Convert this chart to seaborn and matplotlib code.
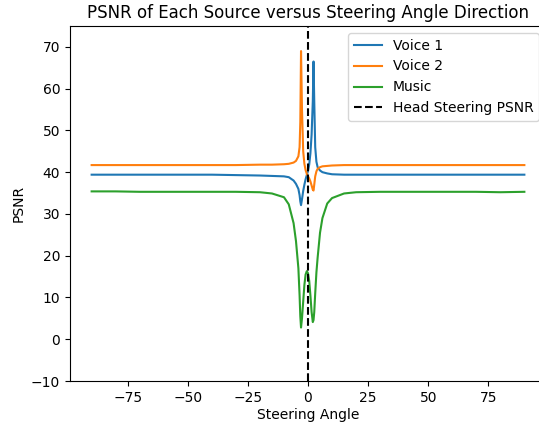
import numpy as np
import pandas as pd
import matplotlib
matplotlib.use("Agg")
import matplotlib.pyplot as plt
import seaborn as sns

# steering angles (degrees), denser near 0 where the spikes are
angles = [-90, -80, -70, -60, -50, -40, -30, -20, -15, -10, -8, -6, -5, -4,
          -3.5, -3.2, -2.9, -2.5, -2, -1.5, -1, -0.5, 0, 0.5, 1, 1.5, 2, 2.3,
          2.6, 3, 3.5, 4, 5, 6, 8, 10, 15, 20, 30, 40, 50, 60, 70, 80, 90]

voice1 = [39.4, 39.4, 39.4, 39.4, 39.4, 39.4, 39.3, 39.2, 39.1, 39.0, 38.8, 38.0, 37.2, 36.0,
          34.5, 33.0, 32.1, 33.5, 35.5, 37.0, 38.3, 39.3, 40.3, 41.8, 44.5, 49.0, 57.0, 66.5,
          57.0, 46.0, 42.5, 41.2, 40.4, 40.0, 39.7, 39.5, 39.4, 39.4, 39.4, 39.4, 39.4, 39.4, 39.4, 39.4, 39.4]

voice2 = [41.7, 41.7, 41.7, 41.7, 41.7, 41.7, 41.7, 41.8, 41.8, 41.9, 42.0, 42.3, 42.7, 43.8,
          46.0, 52.0, 69.0, 55.0, 45.0, 42.0, 40.5, 39.6, 39.0, 38.5, 37.8, 36.8, 35.8, 35.6,
          37.0, 39.0, 40.2, 40.8, 41.2, 41.4, 41.5, 41.6, 41.7, 41.7, 41.7, 41.7, 41.7, 41.7, 41.7, 41.7, 41.7]

music = [35.4, 35.4, 35.3, 35.3, 35.3, 35.3, 35.3, 35.2, 34.9, 34.0, 32.3, 27.8, 23.5, 17.0,
         10.5, 5.5, 2.8, 5.0, 9.0, 13.0, 15.5, 16.3, 15.8, 14.0, 10.5, 6.5, 4.1, 4.6,
         6.5, 11.0, 16.0, 19.5, 25.5, 29.0, 32.5, 33.8, 34.9, 35.2, 35.3, 35.3, 35.3, 35.3, 35.3, 35.2, 35.3]

sources = ["Voice 1", "Voice 2", "Music"]

df = pd.concat([
    pd.DataFrame({"angle": angles, "psnr": vals, "source": name})
    for name, vals in zip(sources, [voice1, voice2, music])
])

fig = plt.figure(figsize=(5.39, 4.23), dpi=100)
# axes deliberately runs past the right edge, like the cropped original
ax = fig.add_axes([70 / 539, 42 / 423, 476 / 539, 355 / 423])

sns.lineplot(data=df, x="angle", y="psnr", hue="source", palette="tab10",
             estimator=None, sort=False, ax=ax, linewidth=1.5)
ax.axvline(0, color="black", linestyle="--", label="Head Steering PSNR")

ax.set_xlim(-99, 99)
ax.set_ylim(-10, 75)
ax.set_title("PSNR of Each Source versus Steering Angle Direction")
ax.set_xlabel("Steering Angle", labelpad=2.5)
ax.set_ylabel("PSNR")
ax.legend(loc="upper right")

fig.savefig("out.png", dpi=100)
